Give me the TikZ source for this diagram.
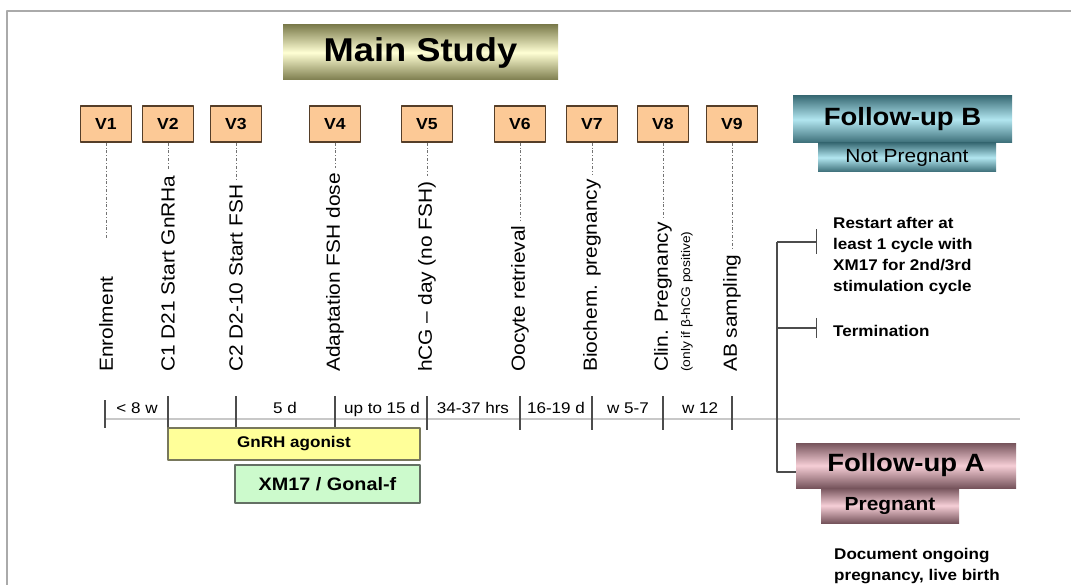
\documentclass[tikz,border=0pt]{standalone}
\usepackage{fontspec}
\setmainfont{Liberation Sans}[FakeStretch=1.1]
\usetikzlibrary{arrows.meta}

\definecolor{visitfill}{RGB}{252,201,150}
\definecolor{visitline}{RGB}{85,62,40}
\definecolor{msdark}{RGB}{125,125,78}
\definecolor{mslight}{RGB}{255,255,212}
\definecolor{fubdark}{RGB}{58,108,118}
\definecolor{fublight}{RGB}{178,230,240}
\definecolor{fuadark}{RGB}{118,84,92}
\definecolor{fualight}{RGB}{246,206,214}
\definecolor{gnrhfill}{RGB}{255,255,153}
\definecolor{gnrhline}{RGB}{120,120,92}
\definecolor{xmfill}{RGB}{204,250,204}
\definecolor{xmline}{RGB}{100,112,100}
\definecolor{framegray}{RGB}{170,170,170}
\definecolor{axisgray}{RGB}{200,200,200}

\begin{document}
\begin{tikzpicture}[
    x=1pt,y=-1pt,line join=round,
    visit/.style={rectangle,draw=visitline,line width=1.5pt,fill=visitfill,
        minimum width=51pt,minimum height=36pt,inner sep=0pt,
        font=\fontsize{16}{18}\selectfont\bfseries},
    event/.style={rotate=90,anchor=west,inner sep=0pt,
        font=\fontsize{19}{21}\selectfont},
    guide/.style={draw=black!55,line width=0.8pt,
        dash pattern=on 3pt off 2pt on 0.7pt off 2pt,shorten >=5pt},
    span/.style={anchor=base,inner sep=0pt,font=\fontsize{15.5}{17}\selectfont},
    tick/.style={draw=black!70,line width=1.2pt},
    drugbar/.style={rectangle,line width=1.2pt,inner sep=0pt},
    shadebox/.style={rectangle,inner sep=0pt,
        top color=#1dark,bottom color=#1dark,middle color=#1light},
    branch/.style={draw=black!70,line width=1.5pt},
    note/.style={inner sep=0pt,align=left,
        font=\fontsize{15.5}{21}\selectfont\bfseries}
  ]
    \useasboundingbox (0,0) rectangle (1071,585);

    % frame
    \draw[framegray,line width=2pt] (1071,11.5) -- (7,11.5) -- (7,585);

    % titles
    \node[shadebox=ms,minimum width=275pt,minimum height=55pt,
        font=\fontsize{33}{36}\selectfont\bfseries] (main) at (420.5,52.5) {Main Study};
    \node[shadebox=fub,minimum width=219pt,minimum height=47pt,
        font=\fontsize{25}{28}\selectfont\bfseries] (fub) at (902.5,119.5) {Follow-up B};
    \node[shadebox=fub,minimum width=178pt,minimum height=29pt,
        font=\fontsize{19}{21}\selectfont] (notpreg) at (907,157.5) {Not Pregnant};

    % visits
    \foreach \n/\x in {1/106,2/168,3/236,4/335,5/427,6/520,7/592,8/663,9/732}
        \node[visit] (v\n) at (\x,124) {V\n};

    \node[event] (l1) at (106,372) {Enrolment};
    \node[event] (l2) at (168,372) {C1 D21 Start GnRHa};
    \node[event] (l3) at (236,372) {C2 D2-10 Start FSH};
    \node[event] (l4) at (335,372) {Adaptation FSH dose};
    \node[event] (l5) at (427,372) {hCG -- day (no FSH)};
    \node[event] (l6) at (520,372) {Oocyte retrieval};
    \node[event] (l7) at (592,372) {Biochem. pregnancy};
    \node[event] (l8) at (663,372) {Clin. Pregnancy};
    \node[event,font=\fontsize{12.5}{14}\selectfont] (l8note) at (687,372)
        {(only if β-hCG positive)};
    \node[event] (l9) at (732,372) {AB sampling};

    \draw[guide,shorten >=38pt] (v1) -- (l1);
    \foreach \n in {2,...,9}
        \draw[guide] (v\n) -- (l\n);

    % time line
    \draw[axisgray,line width=1.2pt] (105,419) -- (1020,419);
    \draw[tick] (105,400) -- (105,428);
    \foreach \x in {168,236,335,427,520,592,663,732}
        \draw[tick] (\x,396) -- (\x,430);

    \node[span] (d1) at (137,413) {< 8 w};
    \node[span] (d2) at (285,413) {5 d};
    \node[span] (d3) at (382,413) {up to 15 d};
    \node[span] (d4) at (473,413) {34-37 hrs};
    \node[span] (d5) at (556,413) {16-19 d};
    \node[span] (d6) at (628,413) {w 5-7};
    \node[span] (d7) at (700,413) {w 12};

    \node[drugbar,draw=gnrhline,fill=gnrhfill,minimum width=252pt,minimum height=32pt,
        font=\fontsize{15.5}{17}\selectfont\bfseries] (gnrh) at (294,444) {GnRH agonist};
    \node[drugbar,draw=xmline,fill=xmfill,minimum width=185pt,minimum height=38pt,
        font=\fontsize{18}{20}\selectfont\bfseries] (xm17) at (327.5,484) {XM17 / Gonal-f};

    % follow-up
    \node[shadebox=fua,minimum width=220pt,minimum height=45pt,
        font=\fontsize{25}{28}\selectfont\bfseries] (fua) at (906,465.5) {Follow-up A};
    \node[shadebox=fua,minimum width=138pt,minimum height=35pt,
        font=\fontsize{19}{21}\selectfont\bfseries] (preg) at (890,505.5) {Pregnant};

    \node[note,anchor=north west] (restart) at (833,217)
        {Restart after at\\least 1 cycle with\\XM17 for 2nd/3rd\\stimulation cycle};
    \node[note,anchor=west] (term) at (833,331) {Termination};
    \node[note,anchor=north west] (ongoing) at (834,548)
        {Document ongoing\\pregnancy, live birth};

    \coordinate (fork1) at (777,242);
    \coordinate (fork2) at (777,328);
    \coordinate (stub1) at (817,242);
    \coordinate (stub2) at (817,328);
    \draw[branch] (fork1) |- ([yshift=-6.5pt]fua.west);
    \draw[branch,-{Bar[width=25pt]}] (fork1) -- (stub1);
    \draw[branch,-{Bar[width=20pt]}] (fork2) -- (stub2);
\end{tikzpicture}
\end{document}
